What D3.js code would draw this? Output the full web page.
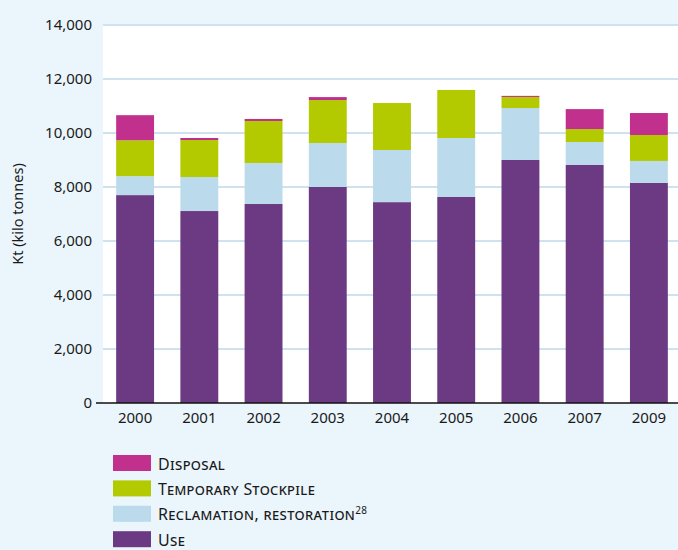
<!DOCTYPE html>
<html>
<head>
<meta charset="utf-8">
<script src="https://cdn.jsdelivr.net/npm/d3@7"></script>
<style>
  html, body { margin: 0; padding: 0; background: #eaf5fc; }
  svg { display: block; font-family: "Noto Sans", "Open Sans", sans-serif; }
</style>
</head>
<body>
<svg id="chart" width="678" height="550"></svg>
<script>
// Construction & demolition waste by destination, kilo tonnes
const years = ["2000", "2001", "2002", "2003", "2004", "2005", "2006", "2007", "2009"];
const use         = [7700, 7110, 7370, 8000, 7440, 7630, 9000, 8815, 8150];
const reclamation = [ 700, 1260, 1520, 1630, 1930, 2185, 1925,  850,  815];
const stockpile   = [1330, 1370, 1555, 1590, 1740, 1780,  410,  480,  960];
const disposal    = [ 930,   75,   75,  110,    0,    0,   40,  740,  815];
const yTicks = [0, 2000, 4000, 6000, 8000, 10000, 12000, 14000];

const seriesKeys = ["use", "reclamation", "stockpile", "disposal"];
const colors = {
  use: "#6c3a83",
  reclamation: "#bbdaeb",
  stockpile: "#b3c900",
  disposal: "#c1308c"
};

const rows = years.map((y, i) => ({
  year: y,
  use: use[i],
  reclamation: reclamation[i],
  stockpile: stockpile[i],
  disposal: disposal[i]
}));

const svg = d3.select("#chart");
const plot = { left: 103, right: 678, top: 25, bottom: 403 };

const x = d3.scaleBand()
  .domain(years)
  .range([plot.left, 681])
  .paddingInner(0.41)
  .paddingOuter(0.205);

const y = d3.scaleLinear()
  .domain([0, 14000])
  .range([plot.bottom, plot.top]);

// white plotting area
svg.append("rect")
  .attr("x", plot.left)
  .attr("y", plot.top)
  .attr("width", plot.right - plot.left)
  .attr("height", plot.bottom - plot.top)
  .attr("fill", "#ffffff");

// horizontal gridlines
svg.append("g")
  .selectAll("line")
  .data(yTicks.filter(d => d > 0))
  .join("line")
  .attr("x1", plot.left)
  .attr("x2", plot.right)
  .attr("y1", d => y(d))
  .attr("y2", d => y(d))
  .attr("stroke", "#cfe2ee")
  .attr("stroke-width", 2);

// stacked bars
const stacked = d3.stack().keys(seriesKeys)(rows);
svg.append("g")
  .selectAll("g")
  .data(stacked)
  .join("g")
  .attr("fill", d => colors[d.key])
  .selectAll("rect")
  .data(d => d)
  .join("rect")
  .attr("x", d => x(d.data.year))
  .attr("width", x.bandwidth())
  .attr("y", d => y(d[1]))
  .attr("height", d => y(d[0]) - y(d[1]));

// y axis
const yAxis = svg.append("g")
  .attr("transform", `translate(${plot.left},0)`)
  .call(d3.axisLeft(y).tickValues(yTicks).tickSize(0).tickPadding(11)
    .tickFormat(d3.format(",")));
yAxis.select(".domain").remove();
yAxis.selectAll("text")
  .attr("font-size", 15)
  .attr("fill", "#1a1a1a")
  .attr("font-family", "Noto Sans, sans-serif");

// x axis
const xAxis = svg.append("g")
  .attr("transform", `translate(0,${plot.bottom})`)
  .call(d3.axisBottom(x).tickSize(0).tickPadding(9));
xAxis.select(".domain").remove();
xAxis.selectAll("text")
  .attr("font-size", 15)
  .attr("fill", "#1a1a1a")
  .attr("font-family", "Noto Sans, sans-serif");

// baseline
svg.append("line")
  .attr("x1", plot.left - 7)
  .attr("x2", plot.right)
  .attr("y1", plot.bottom)
  .attr("y2", plot.bottom)
  .attr("stroke", "#111")
  .attr("stroke-width", 1.5);

// y axis title
svg.append("text")
  .attr("transform", `translate(23,${(plot.top + plot.bottom) / 2}) rotate(-90)`)
  .attr("text-anchor", "middle")
  .attr("font-size", 14.5)
  .attr("fill", "#1a1a1a")
  .text("Kt (kilo tonnes)");

// legend
const legendItems = [
  { key: "disposal", label: "Disposal" },
  { key: "stockpile", label: "Temporary Stockpile" },
  { key: "reclamation", label: "Reclamation, restoration", sup: "28" },
  { key: "use", label: "Use" }
];
const legend = svg.append("g");
const lg = legend.selectAll("g")
  .data(legendItems)
  .join("g")
  .attr("transform", (d, i) => `translate(113,${455 + i * 25.4})`);
lg.append("rect")
  .attr("width", 38)
  .attr("height", 16)
  .attr("fill", d => colors[d.key]);
const lt = lg.append("text")
  .attr("x", 45)
  .attr("y", 14.5)
  .attr("font-size", 16)
  .attr("fill", "#1a1a1a")
  .style("font-variant", "small-caps")
  .style("letter-spacing", "0.35px");
lt.append("tspan").text(d => d.label);
lt.filter(d => d.sup)
  .append("tspan")
  .attr("dy", -6)
  .attr("font-size", 10)
  .style("font-variant", "normal")
  .text(d => d.sup);
</script>
</body>
</html>
